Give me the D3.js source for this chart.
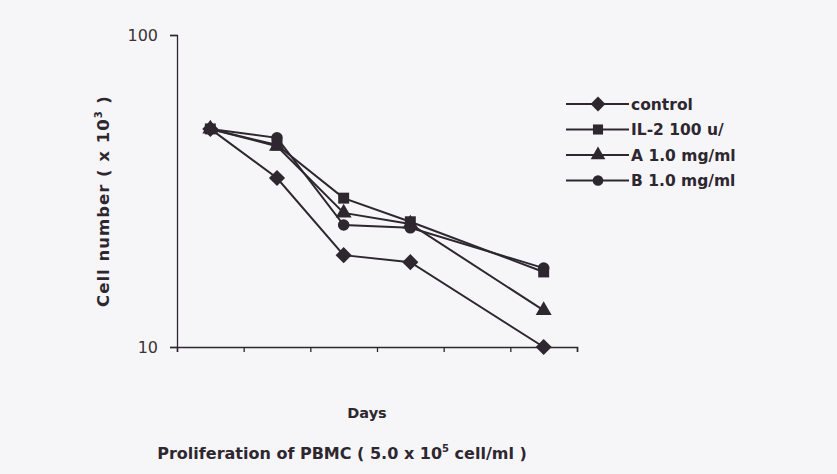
<!DOCTYPE html>
<head>
<meta charset='utf-8'>
<style>
  body { margin: 0; background: #f6f6f8; }
  svg { display: block; }
  text { font-family: 'DejaVu Sans', Arial, sans-serif; fill: #2e2730; }
</style>
</head>
<body>
<div id='vis'></div>
<script src='https://d3js.org/d3.v7.min.js'></script>
<script>
  const W = 837, H = 474

  // data
  const days = [1, 2, 3, 4, 6]
  const control = [50, 34.8, 19.7, 18.7, 10]
  const il2 = [50, 44.4, 30.0, 25.2, 17.4]
  const seriesA = [50, 44.0, 26.9, 24.8, 13.1]
  const seriesB = [50, 46.8, 24.6, 24.1, 17.9]
  const names = ['control', 'IL-2 100 u/', 'A 1.0 mg/ml', 'B 1.0 mg/ml']
  const ink = '#2e2730'

  const series = [control, il2, seriesA, seriesB]

  // diamond as a square turned 45 deg
  const diamond = {
    draw(ctx, size) {
      const r = Math.sqrt(size) / 1.3
      ctx.moveTo(0, -r); ctx.lineTo(r, 0); ctx.lineTo(0, r); ctx.lineTo(-r, 0); ctx.closePath()
    }
  }
  const symbols = [diamond, d3.symbolSquare, d3.symbolTriangle, d3.symbolCircle]
  const symSize = [110, 120, 110, 105]

  const x = d3.scaleLinear().domain([0.5, 6.5]).range([177, 577])
  const y = d3.scaleLog().domain([10, 100]).range([347, 35])

  const svg = d3.select('#vis').append('svg')
    .attr('width', W).attr('height', H)

  // axes
  const yAxis = svg.append('g').attr('transform', 'translate(177,0)')
    .call(d3.axisLeft(y).tickValues([10, 100]).tickFormat(d3.format('d')).tickSize(7).tickPadding(12))
  yAxis.select('.domain').attr('stroke', ink).attr('stroke-width', 1.3)
  yAxis.selectAll('line').attr('stroke', ink).attr('stroke-width', 1.3)
  yAxis.selectAll('text').attr('font-size', 16).style('fill', '#3a3338')

  const xAxis = svg.append('g').attr('transform', 'translate(0,347)')
    .call(d3.axisBottom(x).tickValues(d3.range(0.5, 6.6, 1)).tickFormat('').tickSizeOuter(0).tickSize(5))
  xAxis.select('.domain').attr('stroke', ink).attr('stroke-width', 1.5)
  xAxis.selectAll('line').attr('stroke', ink).attr('stroke-width', 1.3)

  const line = d3.line().x((d, i) => x(days[i])).y(d => y(d))

  series.forEach((s, k) => {
    svg.append('path')
      .attr('d', line(s))
      .attr('fill', 'none')
      .attr('stroke', ink)
      .attr('stroke-width', 2)
    svg.selectAll(null)
      .data(s)
      .enter()
      .append('path')
      .attr('transform', (d, i) => `translate(${x(days[i])},${y(d)})`)
      .attr('d', d3.symbol(symbols[k], symSize[k]))
      .attr('fill', ink)
  })

  // legend
  const legend = svg.append('g').attr('transform', 'translate(566,104)')
  names.forEach((n, k) => {
    const g = legend.append('g').attr('transform', `translate(0,${k * 25.5})`)
    g.append('line').attr('x1', 0).attr('x2', 63).attr('stroke', ink).attr('stroke-width', 2.2)
    g.append('path').attr('transform', 'translate(32,0)')
      .attr('d', d3.symbol(symbols[k], symSize[k] * 0.85)).attr('fill', ink)
    g.append('text').attr('x', 65).attr('dy', '0.36em')
      .attr('font-size', 15.5).attr('font-weight', 'bold').text(n)
  })

  // titles
  svg.append('text')
    .attr('transform', 'translate(109,201) rotate(-90)')
    .attr('text-anchor', 'middle').attr('font-size', 16.5).attr('font-weight', 'bold')
    .attr('letter-spacing', 1)
    .html('Cell number ( x 10<tspan dy="-7" font-size="10">3</tspan><tspan dy="7"> )</tspan>')

  svg.append('text')
    .attr('x', 367).attr('y', 418)
    .attr('text-anchor', 'middle').attr('font-size', 14.5).attr('font-weight', 'bold')
    .text('Days')

  svg.append('text')
    .attr('x', 342).attr('y', 459)
    .attr('text-anchor', 'middle').attr('font-size', 16).attr('font-weight', 'bold')
    .html('Proliferation of PBMC ( 5.0 x 10<tspan dy="-7" font-size="10">5</tspan><tspan dy="7"> cell/ml )</tspan>')
</script>
</body>
